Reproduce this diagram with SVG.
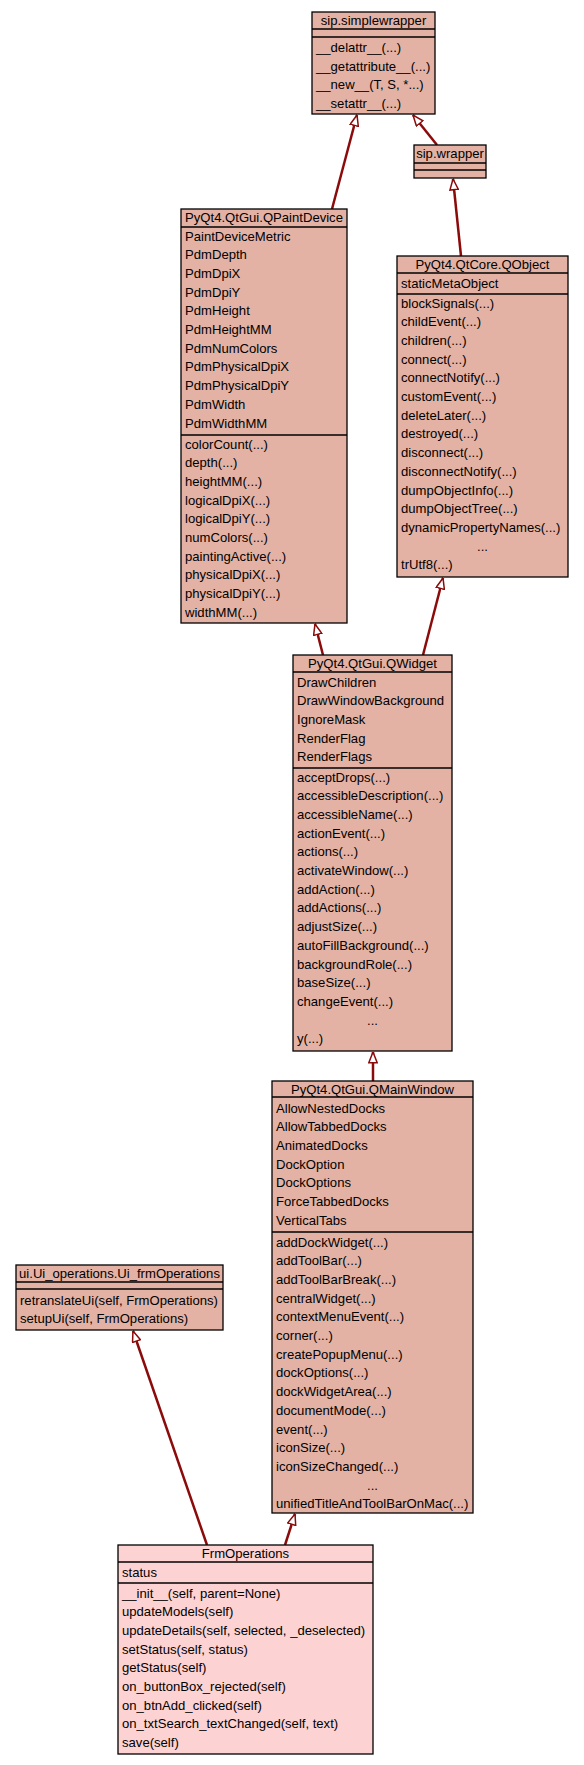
<svg xmlns="http://www.w3.org/2000/svg" width="584" height="1765" viewBox="0 0 584 1765">
<style>
.box{fill:#E3B2A4;stroke:#000;stroke-width:1.3}
.main{fill:#FDD2D2;stroke:#000;stroke-width:1.3}
.sep{stroke:#000;stroke-width:1.5}
text{font-family:"Liberation Sans",Arial,sans-serif;font-size:13.1px;fill:#000}
.t{text-anchor:middle}
.e{stroke:#8B0A0A;stroke-width:2.5;fill:none;marker-end:url(#tri)}
</style>
<defs>
<marker id="tri" viewBox="0 0 12 10" refX="11.5" refY="5" markerWidth="12" markerHeight="10" markerUnits="userSpaceOnUse" orient="auto">
<path d="M0.8,0.8 L11.5,5 L0.8,9.2 z" fill="#fff" stroke="#8B0A0A" stroke-width="1.5"/>
</marker>
</defs>
<rect width="584" height="1765" fill="#fff"/>
<g id="connectors">
<line class="e" x1="332" y1="209" x2="357" y2="115"/>
<line class="e" x1="437" y1="145" x2="413" y2="115"/>
<line class="e" x1="461" y1="256" x2="453" y2="179"/>
<line class="e" x1="323" y1="655" x2="315" y2="624"/>
<line class="e" x1="423" y1="655" x2="443" y2="578"/>
<line class="e" x1="373" y1="1081" x2="373" y2="1052"/>
<line class="e" x1="207" y1="1545" x2="133" y2="1331"/>
<line class="e" x1="285" y1="1545" x2="295" y2="1514"/>
</g>
<g id="sip_simplewrapper">
<rect class="box" x="312" y="12" width="123" height="102"/>
<line class="sep" x1="312" y1="29" x2="435" y2="29"/>
<line class="sep" x1="312" y1="37" x2="435" y2="37"/>
<text class="t" x="373.5" y="25">sip.simplewrapper</text>
<text x="316" y="52">__delattr__(...)</text>
<text x="316" y="71">__getattribute__(...)</text>
<text x="316" y="89">__new__(T, S, *...)</text>
<text x="316" y="108">__setattr__(...)</text>
</g>
<g id="sip_wrapper">
<rect class="box" x="414" y="145" width="72" height="33"/>
<line class="sep" x1="414" y1="163" x2="486" y2="163"/>
<line class="sep" x1="414" y1="170" x2="486" y2="170"/>
<text class="t" x="450" y="158">sip.wrapper</text>
</g>
<g id="QPaintDevice">
<rect class="box" x="181" y="209" width="166" height="414"/>
<line class="sep" x1="181" y1="227" x2="347" y2="227"/>
<line class="sep" x1="181" y1="435" x2="347" y2="435"/>
<text class="t" x="264" y="222">PyQt4.QtGui.QPaintDevice</text>
<text x="185" y="240.5">PaintDeviceMetric</text>
<text x="185" y="259.2">PdmDepth</text>
<text x="185" y="277.9">PdmDpiX</text>
<text x="185" y="296.6">PdmDpiY</text>
<text x="185" y="315.3">PdmHeight</text>
<text x="185" y="334">PdmHeightMM</text>
<text x="185" y="352.7">PdmNumColors</text>
<text x="185" y="371.4">PdmPhysicalDpiX</text>
<text x="185" y="390.1">PdmPhysicalDpiY</text>
<text x="185" y="408.8">PdmWidth</text>
<text x="185" y="427.5">PdmWidthMM</text>
<text x="185" y="448.5">colorCount(...)</text>
<text x="185" y="467.2">depth(...)</text>
<text x="185" y="485.9">heightMM(...)</text>
<text x="185" y="504.6">logicalDpiX(...)</text>
<text x="185" y="523.3">logicalDpiY(...)</text>
<text x="185" y="542">numColors(...)</text>
<text x="185" y="560.7">paintingActive(...)</text>
<text x="185" y="579.4">physicalDpiX(...)</text>
<text x="185" y="598.1">physicalDpiY(...)</text>
<text x="185" y="616.8">widthMM(...)</text>
</g>
<g id="QObject">
<rect class="box" x="397" y="256" width="171" height="321"/>
<line class="sep" x1="397" y1="273" x2="568" y2="273"/>
<line class="sep" x1="397" y1="294" x2="568" y2="294"/>
<text class="t" x="482.5" y="269">PyQt4.QtCore.QObject</text>
<text x="401" y="287.5">staticMetaObject</text>
<text x="401" y="307.5">blockSignals(...)</text>
<text x="401" y="326.2">childEvent(...)</text>
<text x="401" y="344.9">children(...)</text>
<text x="401" y="363.6">connect(...)</text>
<text x="401" y="382.3">connectNotify(...)</text>
<text x="401" y="401">customEvent(...)</text>
<text x="401" y="419.7">deleteLater(...)</text>
<text x="401" y="438.4">destroyed(...)</text>
<text x="401" y="457.1">disconnect(...)</text>
<text x="401" y="475.8">disconnectNotify(...)</text>
<text x="401" y="494.5">dumpObjectInfo(...)</text>
<text x="401" y="513.2">dumpObjectTree(...)</text>
<text x="401" y="531.9">dynamicPropertyNames(...)</text>
<text class="t" x="482.5" y="550.6">...</text>
<text x="401" y="569.3">trUtf8(...)</text>
</g>
<g id="QWidget">
<rect class="box" x="293" y="655" width="159" height="396"/>
<line class="sep" x1="293" y1="672" x2="452" y2="672"/>
<line class="sep" x1="293" y1="768" x2="452" y2="768"/>
<text class="t" x="372.5" y="668">PyQt4.QtGui.QWidget</text>
<text x="297" y="686.5">DrawChildren</text>
<text x="297" y="705.2">DrawWindowBackground</text>
<text x="297" y="723.9">IgnoreMask</text>
<text x="297" y="742.6">RenderFlag</text>
<text x="297" y="761.3">RenderFlags</text>
<text x="297" y="781.5">acceptDrops(...)</text>
<text x="297" y="800.2">accessibleDescription(...)</text>
<text x="297" y="818.9">accessibleName(...)</text>
<text x="297" y="837.6">actionEvent(...)</text>
<text x="297" y="856.3">actions(...)</text>
<text x="297" y="875">activateWindow(...)</text>
<text x="297" y="893.7">addAction(...)</text>
<text x="297" y="912.4">addActions(...)</text>
<text x="297" y="931.1">adjustSize(...)</text>
<text x="297" y="949.8">autoFillBackground(...)</text>
<text x="297" y="968.5">backgroundRole(...)</text>
<text x="297" y="987.2">baseSize(...)</text>
<text x="297" y="1005.9">changeEvent(...)</text>
<text class="t" x="372.5" y="1024.6">...</text>
<text x="297" y="1043.3">y(...)</text>
</g>
<g id="QMainWindow">
<rect class="box" x="272" y="1081" width="201" height="432"/>
<line class="sep" x1="272" y1="1097" x2="473" y2="1097"/>
<line class="sep" x1="272" y1="1232" x2="473" y2="1232"/>
<text class="t" x="372.5" y="1093.5">PyQt4.QtGui.QMainWindow</text>
<text x="276" y="1112.5">AllowNestedDocks</text>
<text x="276" y="1131.2">AllowTabbedDocks</text>
<text x="276" y="1149.9">AnimatedDocks</text>
<text x="276" y="1168.6">DockOption</text>
<text x="276" y="1187.3">DockOptions</text>
<text x="276" y="1206">ForceTabbedDocks</text>
<text x="276" y="1224.7">VerticalTabs</text>
<text x="276" y="1246.5">addDockWidget(...)</text>
<text x="276" y="1265.2">addToolBar(...)</text>
<text x="276" y="1283.9">addToolBarBreak(...)</text>
<text x="276" y="1302.6">centralWidget(...)</text>
<text x="276" y="1321.3">contextMenuEvent(...)</text>
<text x="276" y="1340">corner(...)</text>
<text x="276" y="1358.7">createPopupMenu(...)</text>
<text x="276" y="1377.4">dockOptions(...)</text>
<text x="276" y="1396.1">dockWidgetArea(...)</text>
<text x="276" y="1414.8">documentMode(...)</text>
<text x="276" y="1433.5">event(...)</text>
<text x="276" y="1452.2">iconSize(...)</text>
<text x="276" y="1470.9">iconSizeChanged(...)</text>
<text class="t" x="372.5" y="1489.6">...</text>
<text x="276" y="1508.3">unifiedTitleAndToolBarOnMac(...)</text>
</g>
<g id="Ui_frmOperations">
<rect class="box" x="16" y="1265" width="207" height="65"/>
<line class="sep" x1="16" y1="1282" x2="223" y2="1282"/>
<line class="sep" x1="16" y1="1289" x2="223" y2="1289"/>
<text class="t" x="119.5" y="1278">ui.Ui_operations.Ui_frmOperations</text>
<text x="20" y="1304.5">retranslateUi(self, FrmOperations)</text>
<text x="20" y="1323.2">setupUi(self, FrmOperations)</text>
</g>
<g id="FrmOperations">
<rect class="main" x="118" y="1545" width="255" height="209"/>
<line class="sep" x1="118" y1="1562" x2="373" y2="1562"/>
<line class="sep" x1="118" y1="1583" x2="373" y2="1583"/>
<text class="t" x="245.5" y="1558">FrmOperations</text>
<text x="122" y="1576.5">status</text>
<text x="122" y="1597.5">__init__(self, parent=None)</text>
<text x="122" y="1616.2">updateModels(self)</text>
<text x="122" y="1634.9">updateDetails(self, selected, _deselected)</text>
<text x="122" y="1653.6">setStatus(self, status)</text>
<text x="122" y="1672.3">getStatus(self)</text>
<text x="122" y="1691">on_buttonBox_rejected(self)</text>
<text x="122" y="1709.7">on_btnAdd_clicked(self)</text>
<text x="122" y="1728.4">on_txtSearch_textChanged(self, text)</text>
<text x="122" y="1747.1">save(self)</text>
</g>
</svg>
